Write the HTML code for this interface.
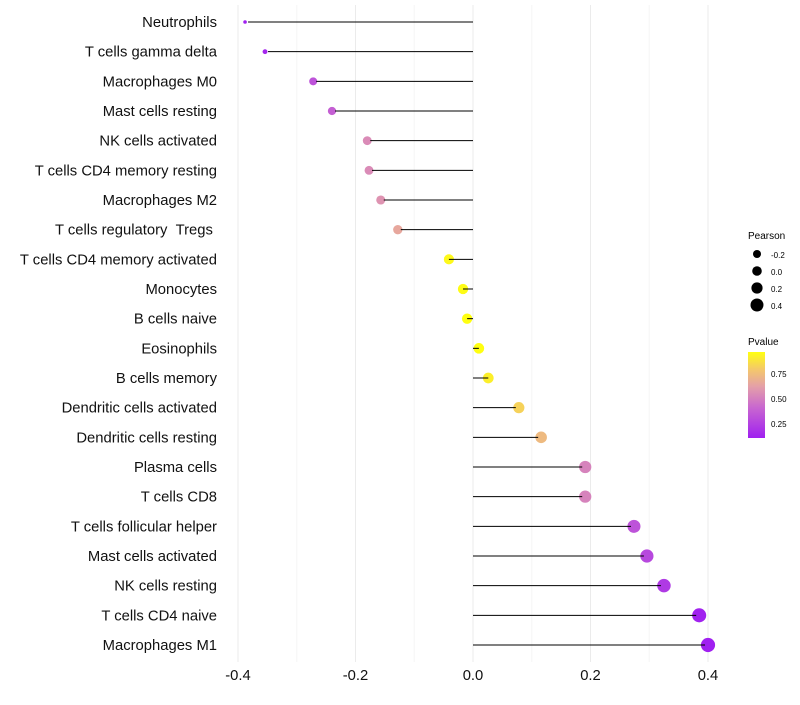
<!DOCTYPE html>
<html><head><meta charset="utf-8"><style>
body{margin:0;background:#fff;font-family:"Liberation Sans",sans-serif;}
svg text{font-family:"Liberation Sans",sans-serif;}
</style></head><body>
<svg id="chart" width="800" height="700" xmlns="http://www.w3.org/2000/svg">
<defs><linearGradient id="pg" x1="0" y1="1" x2="0" y2="0">
<stop offset="0" stop-color="#a020f0"/><stop offset="0.35" stop-color="#c866d0"/><stop offset="0.6" stop-color="#e4a0a8"/><stop offset="0.8" stop-color="#f4c86a"/><stop offset="1" stop-color="#ffff10"/></linearGradient></defs>
<g id="grid"></g>
<g id="marks"></g>
<g id="ylabels"></g>
<g id="xlabels"></g>
<g>
<text x="748" y="239" font-size="10">Pearson</text>
<circle cx="757" cy="254" r="4" fill="#000"/><text x="771" y="258" font-size="8">-0.2</text>
<circle cx="757" cy="271" r="4.8" fill="#000"/><text x="771" y="275" font-size="8">0.0</text>
<circle cx="757" cy="288" r="5.6" fill="#000"/><text x="771" y="292" font-size="8">0.2</text>
<circle cx="757" cy="305" r="6.5" fill="#000"/><text x="771" y="309" font-size="8">0.4</text>
</g>
<g>
<text x="748" y="345" font-size="10">Pvalue</text>
<rect x="748" y="352" width="17" height="86" fill="url(#pg)"/>
<text x="771" y="377" font-size="8">0.75</text>
<text x="771" y="402" font-size="8">0.50</text>
<text x="771" y="427" font-size="8">0.25</text>
</g>
</svg>
<script>
const categories=["Neutrophils","T cells gamma delta","Macrophages M0","Mast cells resting","NK cells activated","T cells CD4 memory resting","Macrophages M2","T cells regulatory\u00a0\u00a0Tregs\u00a0","T cells CD4 memory activated","Monocytes","B cells naive","Eosinophils","B cells memory","Dendritic cells activated","Dendritic cells resting","Plasma cells","T cells CD8","T cells follicular helper","Mast cells activated","NK cells resting","T cells CD4 naive","Macrophages M1"];
const pearson=[-0.388,-0.354,-0.272,-0.240,-0.180,-0.177,-0.157,-0.128,-0.041,-0.017,-0.010,0.010,0.026,0.078,0.116,0.191,0.191,0.274,0.296,0.325,0.385,0.400];
const pvalues=[0.11,0.14,0.33,0.38,0.55,0.55,0.58,0.66,0.95,0.96,0.97,0.97,0.92,0.83,0.74,0.52,0.52,0.33,0.28,0.22,0.12,0.11];
const xTicks=[-0.4,-0.2,0.0,0.2,0.4];
const xTickLabels=["-0.4","-0.2","0.0","0.2","0.4"];
const NS="http://www.w3.org/2000/svg";
const x=v=>473+v*587.5;
const y=i=>22+i*(623/21);
const rad=v=>v< -0.272 ? 1.8+(v+0.388)/0.116*2.2 : 4+(v+0.272)*4.6;
function lerp(a,b,t){return Math.round(a+(b-a)*t);}
const stops=[[0.11,[160,32,240]],[0.41,[200,102,208]],[0.63,[228,160,168]],[0.80,[244,200,106]],[0.97,[255,255,16]]];
function col(p){if(p<=stops[0][0])return"rgb(160,32,240)";for(let i=1;i<stops.length;i++){if(p<=stops[i][0]){const t=(p-stops[i-1][0])/(stops[i][0]-stops[i-1][0]);const a=stops[i-1][1],b=stops[i][1];return`rgb(${lerp(a[0],b[0],t)},${lerp(a[1],b[1],t)},${lerp(a[2],b[2],t)})`;}}return"rgb(255,255,16)";}
function mk(t,a,p){const e=document.createElementNS(NS,t);for(const k in a)e.setAttribute(k,a[k]);p.appendChild(e);return e;}
const grid=document.getElementById('grid');
for(let v=-0.4;v<=0.401;v+=0.1){const major=Math.abs(Math.round(v*10))%2===0;
const g=mk('line',{x1:x(v),x2:x(v),y1:5,y2:662,stroke:major?'#ebebeb':'#f5f5f5','stroke-width':1},grid);

}
const marks=document.getElementById('marks'),yl=document.getElementById('ylabels'),xl=document.getElementById('xlabels');
categories.forEach((c,i)=>{
const cy=y(i);
const pt=mk('circle',{cx:x(pearson[i]),cy:cy,r:rad(pearson[i]),fill:col(pvalues[i])},marks);


const ln=mk('line',{x1:x(0),x2:x(pearson[i])+(pearson[i]>0?-3:3)*(Math.abs(pearson[i])>0.05?1:0),y1:cy,y2:cy,stroke:'#000','stroke-width':1},marks);


const t=mk('text',{x:217,y:cy+5,'text-anchor':'end','font-size':14.8,fill:'#111'},yl);
t.textContent=c;


});
xTicks.forEach((v,i)=>{
const t=mk('text',{x:x(v),y:680,'text-anchor':'middle','font-size':14.8,fill:'#111'},xl);
t.textContent=xTickLabels[i];


});
</script>
</body></html>
